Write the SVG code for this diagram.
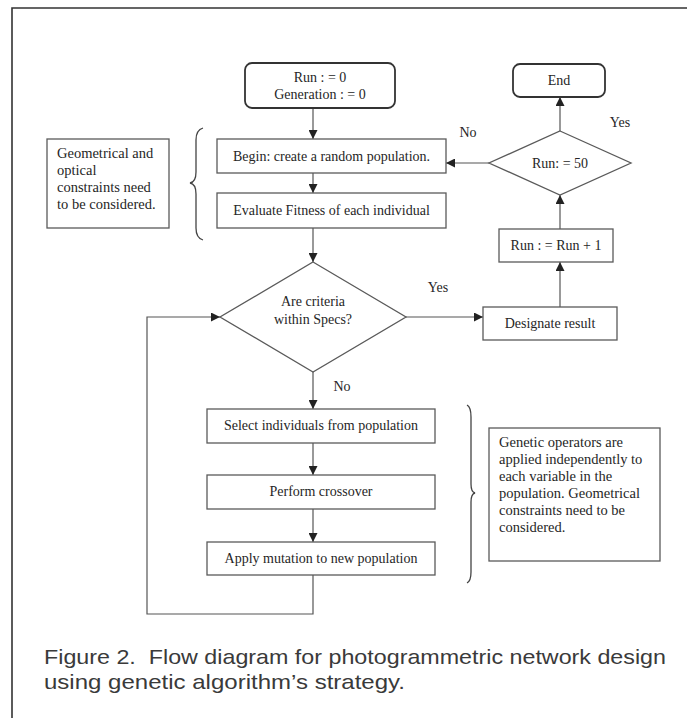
<svg xmlns="http://www.w3.org/2000/svg" width="687" height="718" viewBox="0 0 687 718">
<style>
.box{fill:#fff;stroke:#5a5a5a;stroke-width:1.3}
.term{fill:#fff;stroke:#333;stroke-width:1.8}
.t{font-family:"Liberation Serif","Times New Roman",serif;font-size:14px;fill:#262626;text-anchor:middle}
.tl{font-family:"Liberation Serif","Times New Roman",serif;font-size:14.5px;fill:#262626}
.edge{stroke:#555;stroke-width:1.2;fill:none;marker-end:url(#ah)}
.brace{stroke:#444;stroke-width:1.3;fill:none}
.cap{font-family:"Liberation Sans",Arial,sans-serif;font-size:21px;fill:#3a3a3a}
.frame{stroke:#333;stroke-width:1.6;fill:none}
</style>
<defs>
<marker id="ah" viewBox="0 0 10 10" refX="10" refY="5" markerWidth="9" markerHeight="9" markerUnits="userSpaceOnUse" orient="auto"><path d="M0,0 L10,5 L0,10 z" fill="#222"/></marker>
</defs>
<rect width="687" height="718" fill="#fff"/>
<path class="frame" d="M687,8 L12,8 L12,718"/>

<g id="connectors">
<path class="edge" d="M313,108 L313,139"/>
<path class="edge" d="M313,173 L313,193"/>
<path class="edge" d="M313,228 L313,262"/>
<path class="edge" d="M313,372 L313,409"/>
<path class="edge" d="M313,443 L313,475"/>
<path class="edge" d="M313,509 L313,542"/>
<path class="edge" d="M313,575 L313,614 L147,614 L147,317 L220,317"/>
<path class="edge" d="M406,317 L483,317"/>
<path class="edge" d="M560,307 L560,262"/>
<path class="edge" d="M560,229 L560,195"/>
<path class="edge" d="M560,131 L560,97"/>
<path class="edge" d="M489,163 L446,163"/>
<text class="t" x="438" y="292">Yes</text>
<text class="t" x="342" y="391">No</text>
<text class="t" x="468" y="137">No</text>
<text class="t" x="620" y="127">Yes</text>
</g>

<g id="start">
<rect class="term" x="245" y="63" width="150" height="45" rx="7"/>
<text class="t" x="320" y="82">Run : = 0</text>
<text class="t" x="320" y="99">Generation : = 0</text>
</g>
<g id="end">
<rect class="term" x="513" y="64" width="92" height="33" rx="7"/>
<text class="t" x="559" y="85">End</text>
</g>
<g id="begin">
<rect class="box" x="217" y="139" width="229" height="34"/>
<text class="t" x="331.5" y="161">Begin: create a random population.</text>
</g>
<g id="evaluate">
<rect class="box" x="217" y="193" width="229" height="35"/>
<text class="t" x="331.5" y="215">Evaluate Fitness of each individual</text>
</g>
<g id="criteria">
<polygon class="box" points="313,262 406,317 313,372 220,317"/>
<text class="t" x="313" y="306">Are criteria</text>
<text class="t" x="313" y="324">within Specs?</text>
</g>
<g id="runcheck">
<polygon class="box" points="560,131 631,163 560,195 489,163"/>
<text class="t" x="560" y="168">Run: = 50</text>
</g>
<g id="runinc">
<rect class="box" x="499" y="229" width="114" height="33"/>
<text class="t" x="556" y="250">Run : = Run + 1</text>
</g>
<g id="designate">
<rect class="box" x="483" y="307" width="134" height="33"/>
<text class="t" x="550" y="328">Designate result</text>
</g>
<g id="select">
<rect class="box" x="207" y="409" width="228" height="34"/>
<text class="t" x="321" y="430">Select individuals from population</text>
</g>
<g id="crossover">
<rect class="box" x="207" y="475" width="228" height="34"/>
<text class="t" x="321" y="496">Perform crossover</text>
</g>
<g id="mutation">
<rect class="box" x="207" y="542" width="228" height="33"/>
<text class="t" x="321" y="563">Apply mutation to new population</text>
</g>
<g id="note1">
<rect class="box" x="47" y="139" width="122" height="89"/>
<text class="tl" x="57" y="158">Geometrical and</text>
<text class="tl" x="57" y="175">optical</text>
<text class="tl" x="57" y="192">constraints need</text>
<text class="tl" x="57" y="209">to be considered.</text>
</g>
<g id="brace1">
<path class="brace" d="M203,128 Q196,130 196,140 L196,172 Q196,182 190,183 Q196,184 196,194 L196,228 Q196,238 203,240"/>
</g>
<g id="note2">
<rect class="box" x="489" y="428" width="171" height="133"/>
<text class="tl" x="499" y="447">Genetic operators are</text>
<text class="tl" x="499" y="464">applied independently to</text>
<text class="tl" x="499" y="481">each variable in the</text>
<text class="tl" x="499" y="498">population. Geometrical</text>
<text class="tl" x="499" y="515">constraints need to be</text>
<text class="tl" x="499" y="532">considered.</text>
</g>
<g id="brace2">
<path class="brace" d="M467,405 Q471,407 471,417 L471,484 Q471,492 475,493 Q471,494 471,502 L471,572 Q471,581 467,583"/>
</g>
<g id="caption">
<text class="cap" x="44" y="664" textLength="622" lengthAdjust="spacingAndGlyphs" xml:space="preserve">Figure 2.  Flow diagram for photogrammetric network design</text>
<text class="cap" x="44" y="689" textLength="361" lengthAdjust="spacingAndGlyphs">using genetic algorithm’s strategy.</text>
</g>
</svg>
